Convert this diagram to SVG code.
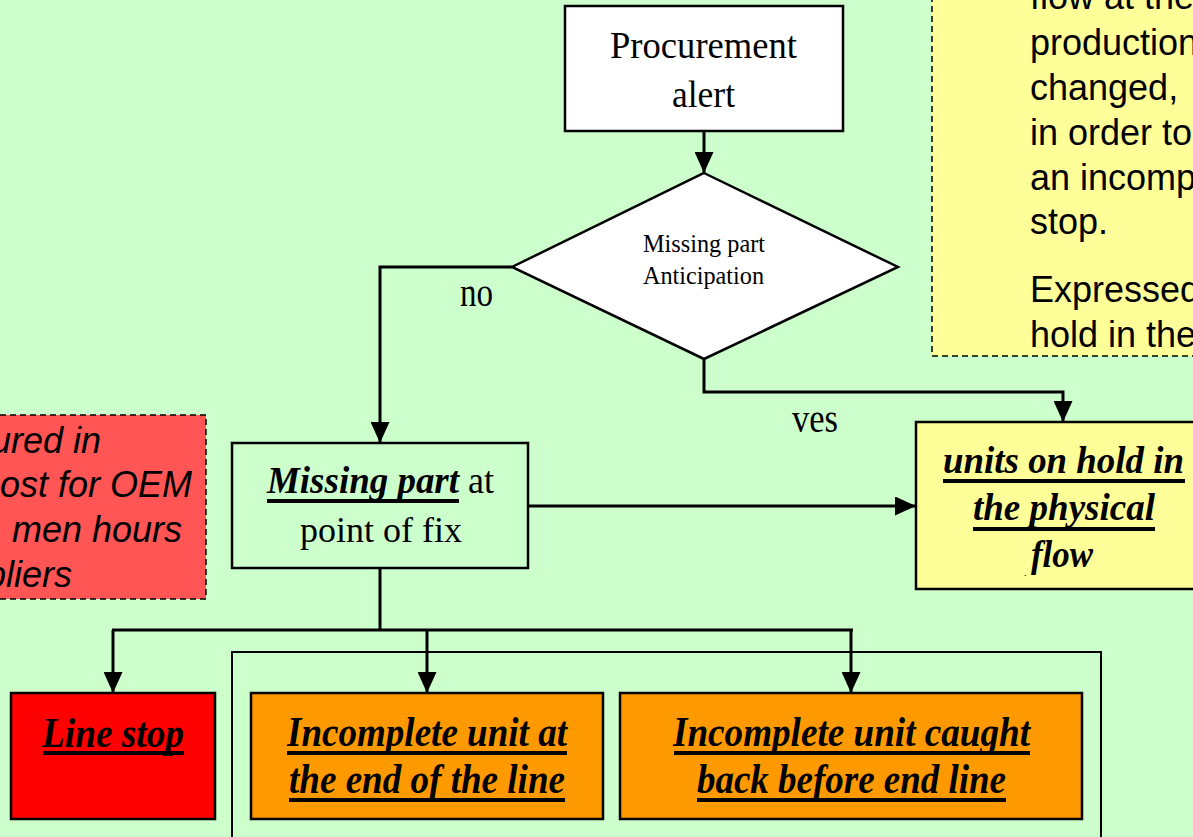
<svg xmlns="http://www.w3.org/2000/svg" width="1193" height="837" viewBox="0 0 1193 837">
<style>
.serif{font-family:"Liberation Serif","Times New Roman",serif;fill:#000}
.sans{font-family:"Liberation Sans",Arial,sans-serif;fill:#000}
.bi{font-weight:bold;font-style:italic}
.box{stroke:#000;stroke-width:2.5}
.ul{fill:#000}
.conn{fill:none;stroke:#000;stroke-width:3}
.note{stroke:#000;stroke-width:1.5;stroke-dasharray:6,4}
</style>
<defs>
<marker id="arr" markerUnits="userSpaceOnUse" markerWidth="21" markerHeight="19" refX="21" refY="9.5" orient="auto">
<path d="M0,0 L21,9.5 L0,19 Z" fill="#000"/>
</marker>
</defs>
<rect x="0" y="0" width="1193" height="837" fill="#CCFFCC"/>

<g id="note-top-right">
<rect class="note" x="932" y="-10" width="275" height="366" fill="#FFFF99"/>
<text class="sans" font-size="36" x="1030" y="9">flow at the</text>
<text class="sans" font-size="36" x="1030" y="55">production</text>
<text class="sans" font-size="36" x="1030" y="100">changed,</text>
<text class="sans" font-size="36" x="1030" y="145">in order to</text>
<text class="sans" font-size="36" x="1030" y="190">an incomp</text>
<text class="sans" font-size="36" x="1030" y="234">stop.</text>
<text class="sans" font-size="36" x="1030" y="302">Expressed</text>
<text class="sans" font-size="36" x="1030" y="347">hold in the</text>
</g>

<g id="note-left">
<rect class="note" x="-10" y="415" width="216" height="184" fill="#FF5555"/>
<text class="sans" font-size="36" font-style="italic" text-anchor="end" x="101" y="453">ured in</text>
<text class="sans" font-size="36" font-style="italic" text-anchor="end" x="192" y="497">ost for OEM</text>
<text class="sans" font-size="36" font-style="italic" text-anchor="end" x="182" y="542">men hours</text>
<text class="sans" font-size="36" font-style="italic" text-anchor="end" x="72" y="587">pliers</text>
</g>

<g id="connectors">
<line class="conn" x1="704" y1="131" x2="704" y2="173" marker-end="url(#arr)"/>
<polyline class="conn" points="512,267 380,267 380,443" marker-end="url(#arr)"/>
<polyline class="conn" points="704,359 704,392 1063,392 1063,422" marker-end="url(#arr)"/>
<line class="conn" x1="528" y1="506" x2="916" y2="506" marker-end="url(#arr)"/>
<line class="conn" x1="380" y1="568" x2="380" y2="630"/>
<line class="conn" x1="112" y1="630" x2="853" y2="630" stroke-width="4"/>
<line class="conn" x1="113" y1="630" x2="113" y2="693" marker-end="url(#arr)"/>
<line class="conn" x1="427" y1="630" x2="427" y2="693" marker-end="url(#arr)"/>
<line class="conn" x1="851" y1="630" x2="851" y2="693" marker-end="url(#arr)"/>
<text class="serif" font-size="40" x="460" y="306" textLength="33" lengthAdjust="spacingAndGlyphs">no</text>
<text class="serif" font-size="40" x="792" y="432" textLength="46" lengthAdjust="spacingAndGlyphs">ves</text>
</g>

<g id="procurement-alert">
<rect class="box" x="565" y="6" width="278" height="125" fill="#FFFFFF"/>
<text class="serif" font-size="38" x="610" y="58" textLength="187" lengthAdjust="spacingAndGlyphs">Procurement</text>
<text class="serif" font-size="38" x="672" y="107" textLength="63" lengthAdjust="spacingAndGlyphs">alert</text>
</g>

<g id="anticipation">
<polygon class="box" points="704,173 898,267 704,359 512,267" fill="#FFFFFF"/>
<text class="serif" font-size="25" x="643" y="252" textLength="122" lengthAdjust="spacingAndGlyphs">Missing part</text>
<text class="serif" font-size="25" x="643" y="284" textLength="121" lengthAdjust="spacingAndGlyphs">Anticipation</text>
</g>

<g id="missing-part">
<rect class="box" x="232" y="443" width="296" height="125" fill="#CCFFCC"/>
<text class="serif bi" font-size="37" x="267" y="493" textLength="192" lengthAdjust="spacingAndGlyphs">Missing part</text>
<rect class="ul" x="267" y="499" width="192" height="4"/>
<text class="serif" font-size="37" x="468" y="493" textLength="26" lengthAdjust="spacingAndGlyphs">at</text>
<text class="serif" font-size="36" x="300" y="542" textLength="162" lengthAdjust="spacingAndGlyphs">point of fix</text>
</g>

<g id="units-on-hold">
<rect class="box" x="916" y="422" width="300" height="167" fill="#FFFF99"/>
<text class="serif bi" font-size="37" x="943" y="473" textLength="241" lengthAdjust="spacingAndGlyphs">units on hold in</text>
<rect class="ul" x="943" y="479" width="242" height="4"/>
<text class="serif bi" font-size="37" x="973" y="520" textLength="182" lengthAdjust="spacingAndGlyphs">the physical</text>
<rect class="ul" x="973" y="527" width="182" height="4"/>
<text class="serif" font-size="10" x="1024" y="576">.</text>
<text class="serif bi" font-size="37" x="1031" y="567" textLength="62" lengthAdjust="spacingAndGlyphs">flow</text>
</g>

<g id="group-frame">
<rect x="232" y="652" width="869" height="210" fill="none" stroke="#000" stroke-width="2"/>
</g>

<g id="line-stop">
<rect class="box" x="11" y="693" width="204" height="126" fill="#FF0000"/>
<text class="serif bi" font-size="42" x="42" y="747" textLength="142" lengthAdjust="spacingAndGlyphs">Line stop</text>
<rect class="ul" x="43" y="751" width="141" height="4"/>
</g>

<g id="incomplete-end">
<rect class="box" x="251" y="693" width="352" height="126" fill="#FF9900"/>
<text class="serif bi" font-size="42" x="287" y="746" textLength="280" lengthAdjust="spacingAndGlyphs">Incomplete unit at</text>
<rect class="ul" x="287" y="751" width="280" height="4"/>
<text class="serif bi" font-size="42" x="289" y="793" textLength="276" lengthAdjust="spacingAndGlyphs">the end of the line</text>
<rect class="ul" x="289" y="798" width="276" height="4"/>
</g>

<g id="incomplete-caught">
<rect class="box" x="620" y="693" width="462" height="126" fill="#FF9900"/>
<text class="serif bi" font-size="42" x="673" y="746" textLength="357" lengthAdjust="spacingAndGlyphs">Incomplete unit caught</text>
<rect class="ul" x="674" y="751" width="356" height="4"/>
<text class="serif bi" font-size="42" x="697" y="793" textLength="309" lengthAdjust="spacingAndGlyphs">back before end line</text>
<rect class="ul" x="697" y="798" width="309" height="4"/>
</g>
</svg>
